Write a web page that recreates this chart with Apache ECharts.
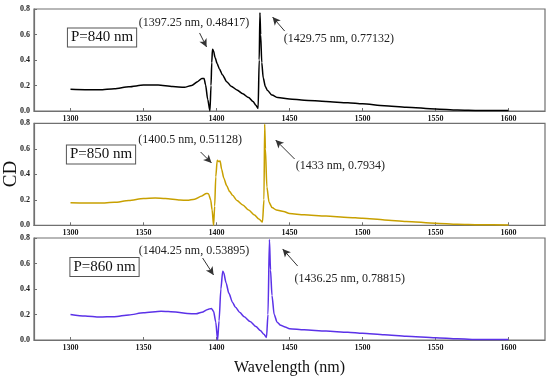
<!DOCTYPE html>
<html><head><meta charset="utf-8">
<script src="https://cdn.jsdelivr.net/npm/echarts@6/dist/echarts.min.js"></script>
<style>html,body{margin:0;padding:0;background:#fff}#c{width:550px;height:378px}</style>
</head><body><div id="c"></div>
<script>
// ---- data ----
var wl840 = [1300,1310,1320,1330,1340,1350,1360,1370,1378,1383,1387,1390,1391.5,1392.5,1394,1395.5,1396.25,1396.75,1397.25,1398,1399,1400.5,1402,1404,1407,1410,1414,1418,1422,1425,1427,1428.5,1429.25,1429.75,1430.25,1431,1432,1433.5,1435,1438,1442,1450,1460,1475,1490,1500,1515,1530,1550,1565,1580,1600];
var cd840 = [0.170,0.167,0.166,0.175,0.190,0.203,0.203,0.192,0.186,0.200,0.230,0.255,0.255,0.205,0.090,0.000,0.200,0.380,0.484,0.470,0.420,0.370,0.330,0.285,0.230,0.195,0.165,0.135,0.105,0.075,0.045,0.020,0.400,0.771,0.600,0.380,0.260,0.190,0.160,0.125,0.105,0.094,0.085,0.075,0.064,0.056,0.042,0.030,0.016,0.008,0.004,0.003];

var wl850 = [1300,1310,1320,1330,1340,1350,1358,1365,1375,1380,1385,1390,1393,1394.5,1396,1397,1398,1398.75,1399.5,1400.5,1401.5,1402.5,1403.5,1405,1407,1409,1411,1414,1418,1422,1426,1429,1431.5,1432.5,1433,1433.5,1434.5,1436,1438,1441,1446,1450,1460,1475,1490,1500,1515,1530,1550,1565,1580,1600];
var cd850 = [0.177,0.175,0.174,0.180,0.195,0.210,0.215,0.210,0.198,0.196,0.205,0.230,0.250,0.248,0.200,0.120,0.000,0.150,0.380,0.511,0.500,0.505,0.440,0.370,0.310,0.265,0.235,0.195,0.160,0.120,0.080,0.050,0.025,0.200,0.793,0.600,0.300,0.180,0.140,0.120,0.108,0.092,0.083,0.072,0.062,0.055,0.042,0.030,0.016,0.008,0.004,0.003];

var wl860 = [1300,1310,1320,1330,1340,1350,1362,1372,1380,1386,1390,1394,1396.5,1398,1399.5,1400.75,1401.75,1403,1404.25,1405,1406.5,1408.5,1411,1413,1416,1419,1423,1427,1430,1432.5,1434.25,1435.25,1436.25,1437,1438,1439.5,1441.5,1444,1447,1450,1460,1475,1490,1500,1515,1530,1550,1565,1580,1600];
var cd860 = [0.200,0.188,0.180,0.183,0.197,0.213,0.226,0.220,0.208,0.205,0.218,0.240,0.248,0.225,0.140,0.000,0.150,0.400,0.539,0.525,0.450,0.366,0.295,0.256,0.215,0.182,0.145,0.105,0.075,0.045,0.020,0.200,0.788,0.550,0.350,0.200,0.140,0.115,0.102,0.088,0.080,0.070,0.060,0.052,0.041,0.030,0.018,0.009,0.004,0.003];

var panelLabels = ['P=840 nm','P=850 nm','P=860 nm'];
var peakText = [
  ['(1397.25 nm, 0.48417)','(1429.75 nm, 0.77132)'],
  ['(1400.5 nm, 0.51128)','(1433 nm, 0.7934)'],
  ['(1404.25 nm, 0.53895)','(1436.25 nm, 0.78815)']
];
var xTitle = 'Wavelength (nm)';
var yTitle = 'CD';

// ---- annotation anchors (data coords) ----
var labelPos = [[1321.6,0.576],[1320.9,0.555],[1323.3,0.573]];
var text1Pos = [[1384.6,0.69],[1381.9,0.669],[1384.6,0.698]];
var text2Pos = [[1446,0.565],[1454.2,0.465],[1453.5,0.478]];
var arrow1 = [[[1388.4,0.612],[1393.2,0.502]],[[1389.1,0.575],[1396.6,0.489]],[[1390.5,0.643],[1398,0.51]]];
var arrow2 = [[[1446.7,0.627],[1438.4,0.737]],[[1453.5,0.52],[1440.5,0.669]],[[1455.6,0.58],[1445.3,0.714]]];

var serif = 'Liberation Serif, Times New Roman, serif';
var frameColor = '#707070';
var tops = [9, 123.3, 238];
var colors = ['#000000', '#c8a000', '#5b32e8'];
var wls = [wl840, wl850, wl860];
var cds = [cd840, cd850, cd860];

function zip(a,b){ return a.map(function(v,i){return [v,b[i]];}); }

var grids = [], xAxes = [], yAxes = [], series = [];
for (var i=0;i<3;i++){
  grids.push({left:34, right:5, top:tops[i], height:102, show:true, borderColor:frameColor, borderWidth:1.2, containLabel:false, outerBoundsMode:'none'});
  xAxes.push({
    type:'value', gridIndex:i, min:1275, max:1625, splitNumber:7,
    axisLine:{show:true, lineStyle:{color:frameColor, width:1.2}},
    axisTick:{show:true, inside:true, length:3, lineStyle:{color:frameColor}},
    axisLabel:{show:true, fontFamily:serif, fontWeight:'bold', fontSize:8, color:'#222', margin:4, showMinLabel:false, showMaxLabel:false, formatter:function(v){return String(v);}},
    splitLine:{show:false},
    name: i===2 ? xTitle : '', nameLocation:'middle', nameGap:20,
    nameTextStyle:{fontFamily:serif, fontSize:16, color:'#111'}
  });
  yAxes.push({
    type:'value', gridIndex:i, min:0, max:0.8, interval:0.2,
    axisLine:{show:true, lineStyle:{color:frameColor, width:1.2}},
    axisTick:{show:true, inside:true, length:3, lineStyle:{color:frameColor}},
    axisLabel:{fontFamily:serif, fontWeight:'bold', fontSize:8, color:'#222', margin:4, formatter:function(v){return v.toFixed(1);}},
    splitLine:{show:false}
  });
  series.push({
    type:'line', xAxisIndex:i, yAxisIndex:i, data:zip(wls[i],cds[i]),
    showSymbol:false, smooth:0.25, smoothMonotone:'x',
    lineStyle:{color:colors[i], width:1.5}, itemStyle:{color:colors[i]},
    silent:true, animation:false,
    markPoint:{
      silent:true, animation:false, symbol:'rect', symbolSize:0,
      data:[
        {coord:labelPos[i], label:{show:true, position:'inside', formatter:panelLabels[i], fontFamily:serif, fontSize:15, color:'#111', borderColor:'#555', borderWidth:1, padding:[2,3,1,3], backgroundColor:'#fff'}},
        {coord:text1Pos[i], label:{show:true, position:'inside', formatter:peakText[i][0], fontFamily:serif, fontSize:12, color:'#222'}},
        {coord:text2Pos[i], label:{show:true, position:'right', distance:0, formatter:peakText[i][1], fontFamily:serif, fontSize:12, color:'#222'}}
      ]
    },
    markLine:{
      silent:true, animation:false, symbol:['none','arrow'], symbolSize:[6,8],
      lineStyle:{color:'#333', width:1, type:'solid'}, label:{show:false},
      data:[
        [{coord:arrow1[i][0]},{coord:arrow1[i][1]}],
        [{coord:arrow2[i][0]},{coord:arrow2[i][1]}]
      ]
    }
  });
}

var chart = echarts.init(document.getElementById('c'), null, {renderer:'canvas'});
chart.setOption({
  animation:false,
  backgroundColor:'#fff',
  grid:grids, xAxis:xAxes, yAxis:yAxes, series:series,
  visualMap:[{
    type:'continuous', show:false, seriesIndex:1, dimension:1, min:0.15, max:0.45,
    inRange:{color:['#bba400','#d39a00','#ff8010']}
  }],
  graphic:[{
    type:'text', x:11, y:174, rotation:Math.PI/2,
    style:{text:yTitle, fontFamily:serif, fontSize:19, fill:'#111', textAlign:'center', textVerticalAlign:'middle'}
  }]
});
</script></body></html>
